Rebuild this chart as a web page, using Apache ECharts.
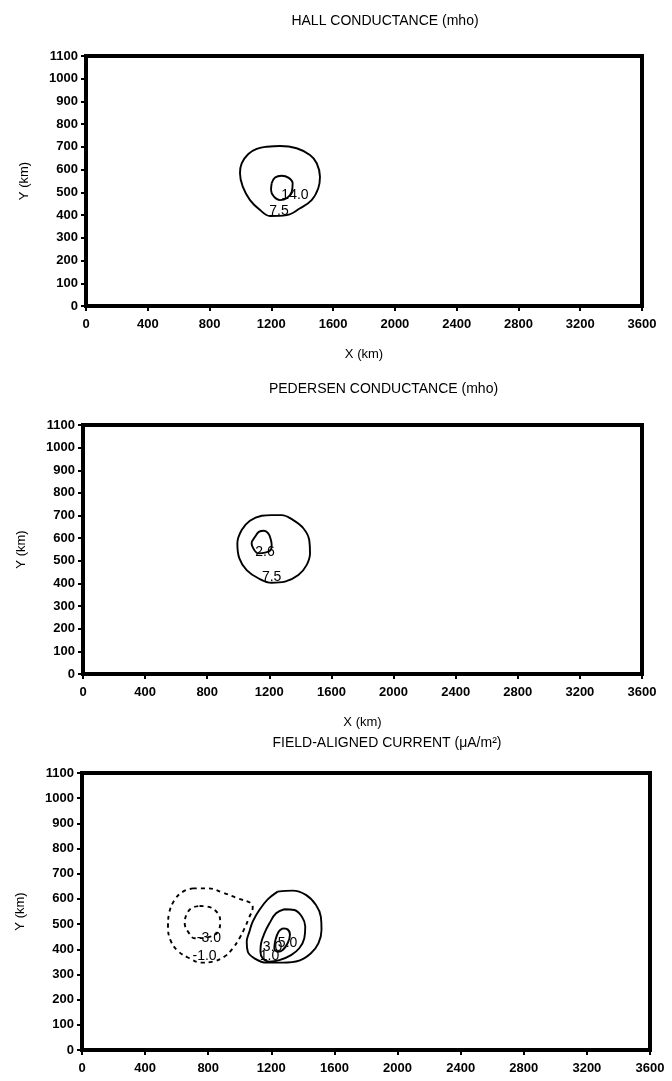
<!DOCTYPE html>
<html><head><meta charset="utf-8">
<script src="https://cdn.jsdelivr.net/npm/echarts@6/dist/echarts.min.js"></script>
<style>html,body{margin:0;padding:0;background:#fff}#c{width:672px;height:1081px}</style>
</head><body><div id="c"></div>
<script>
// ---- data (km) ----
const titles = ['HALL CONDUCTANCE (mho)', 'PEDERSEN CONDUCTANCE (mho)', 'FIELD-ALIGNED CURRENT (\u03bcA/m\u00b2)'];
const xRange = [0, 3600], xStep = 400;
const yRange = [0, 1100], yStep = 100;

// Panel 1: Hall conductance contours
const hall75 = [[1170,701],[1256,704],[1364,694],[1450,664],[1494,628],[1515,569],[1504,518],[1461,466],[1386,430],[1299,400],[1191,396],[1127,422],[1062,466],[1015,525],[997,584],[1008,628],[1051,669],[1105,691],[1170,701]];
const hall140 = [[1202,540],[1224,565],[1267,573],[1310,565],[1338,540],[1332,503],[1299,474],[1256,466],[1217,481],[1198,510],[1202,540]];
const hallLabels = [[1353,488,'14.0'],[1250,419,'7.5']];

// Panel 2: Pedersen conductance contours
const ped75 = [[1215,702],[1279,702],[1354,680],[1419,644],[1457,592],[1462,533],[1440,481],[1387,437],[1301,408],[1215,403],[1129,423],[1054,459],[1007,511],[994,577],[1022,636],[1075,677],[1151,699],[1215,702]];
const pedInner = [[1097,555],[1086,577],[1108,606],[1135,629],[1165,633],[1193,621],[1209,595],[1215,570],[1209,548],[1172,536],[1129,533],[1097,555]];
const pedLabels = [[1172,538,'2.6'],[1215,427,'7.5']];

// Panel 3: field-aligned current contours
const facNeg1 = [[703,642],[798,642],[893,625],[988,602],[1072,583],[1082,567],[1057,523],[1030,483],[998,444],[956,404],[903,371],[830,351],[756,347],[682,364],[608,393],[560,437],[545,490],[552,543],[587,596],[640,629],[703,642]];
const facNeg3 = [[745,572],[809,567],[861,543],[876,510],[867,477],[830,453],[714,444],[672,470],[651,503],[661,536],[693,563],[745,572]];
const facPos1 = [[1240,629],[1335,633],[1419,616],[1483,576],[1514,529],[1518,477],[1499,424],[1451,384],[1377,355],[1272,347],[1167,347],[1093,364],[1051,390],[1044,430],[1061,470],[1082,510],[1124,556],[1177,598],[1240,629]];
const facPos3 = [[1282,559],[1346,556],[1394,529],[1415,490],[1409,444],[1377,404],[1325,377],[1251,357],[1188,351],[1145,364],[1131,390],[1135,424],[1156,463],[1188,503],[1230,543],[1282,559]];
const facPos5 = [[1272,483],[1303,479],[1318,457],[1303,424],[1272,397],[1240,390],[1219,404],[1226,437],[1246,470],[1272,483]];
const facLabels = [[804,444,'-3.0'],[777,373,'-1.0'],[1303,426,'5.0'],[1208,410,'3.0'],[1188,371,'1.0']];

// ---- layout ----
const grids = [
  {left: 86, top: 56, width: 556, height: 250},
  {left: 83, top: 425, width: 559, height: 249},
  {left: 82, top: 773, width: 568, height: 277}
];
const FONT = 'Liberation Sans, Arial, sans-serif';

const chart = echarts.init(document.getElementById('c'), null, {renderer: 'canvas'});

function xAxisFor(i, withName) {
  return {
    gridIndex: i, type: 'value', min: xRange[0], max: xRange[1], interval: xStep,
    name: withName ? 'X (km)' : '', nameLocation: 'middle', nameGap: 42,
    nameTextStyle: {fontFamily: FONT, fontSize: 13, color: '#000'},
    axisLine: {show: true, lineStyle: {color: '#000', width: 4}},
    axisTick: {show: true, length: 5, lineStyle: {color: '#000', width: 2}},
    axisLabel: {fontFamily: FONT, fontSize: 13, fontWeight: 'bold', color: '#000', margin: 12, formatter: v => String(v)},
    splitLine: {show: false}
  };
}
function yAxisFor(i) {
  return {
    gridIndex: i, type: 'value', min: yRange[0], max: yRange[1], interval: yStep,
    name: 'Y (km)', nameLocation: 'middle', nameGap: 55, nameRotate: 90,
    nameTextStyle: {fontFamily: FONT, fontSize: 13, color: '#000'},
    axisLine: {show: true, lineStyle: {color: '#000', width: 4}},
    axisTick: {show: true, length: 5, lineStyle: {color: '#000', width: 2}},
    axisLabel: {fontFamily: FONT, fontSize: 13, fontWeight: 'bold', color: '#000', margin: 8, formatter: v => String(v)},
    splitLine: {show: false}
  };
}
function contour(data, gi, dashed) {
  return {
    type: 'line', xAxisIndex: gi, yAxisIndex: gi, data: data, symbol: 'none', smooth: 0.4,
    lineStyle: {color: '#000', width: 1.9, type: dashed ? [4, 4] : 'solid'}, silent: true, animation: false
  };
}
function labels(arr, gi) {
  return {
    type: 'scatter', xAxisIndex: gi, yAxisIndex: gi, symbol: 'circle', symbolSize: 0,
    itemStyle: {color: '#000', opacity: 1},
    data: arr.map(d => ({value: [d[0], d[1]], name: d[2]})),
    label: {show: true, position: 'inside', formatter: p => p.name, fontFamily: FONT, fontSize: 14,
      color: '#000', opacity: 1, textBorderWidth: 0, textShadowBlur: 0},
    silent: true, animation: false, z: 5
  };
}

const titleTops = [9, 377, 731];
chart.setOption({
  animation: false,
  title: titles.map((t, i) => ({
    text: t, left: grids[i].left + grids[i].width / 2 + 16, top: titleTops[i], textAlign: 'center',
    textStyle: {fontFamily: FONT, fontSize: 14, fontWeight: 'normal', color: '#000'}
  })),
  grid: grids.map(g => Object.assign({show: true, borderColor: '#000', borderWidth: 4, containLabel: false}, g)),
  xAxis: [xAxisFor(0, true), xAxisFor(1, true), xAxisFor(2, false)],
  yAxis: [yAxisFor(0), yAxisFor(1), yAxisFor(2)],
  series: [
    contour(hall75, 0), contour(hall140, 0), labels(hallLabels, 0),
    contour(ped75, 1), contour(pedInner, 1), labels(pedLabels, 1),
    contour(facNeg1, 2, true), contour(facNeg3, 2, true),
    contour(facPos1, 2), contour(facPos3, 2), contour(facPos5, 2), labels(facLabels, 2)
  ]
});
</script></body></html>
